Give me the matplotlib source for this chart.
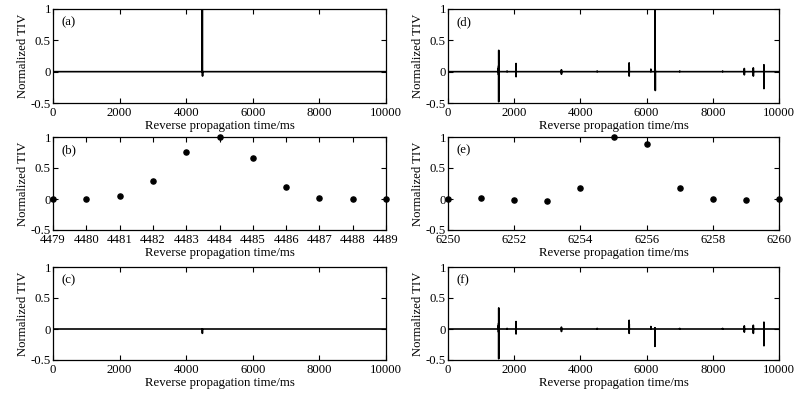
import matplotlib
matplotlib.use("Agg")
import matplotlib.pyplot as plt

plt.rcParams['font.family'] = ['Liberation Serif', 'DejaVu Serif']
plt.rcParams['mathtext.fontset'] = 'stix'

# ---- data ----
# (b) detail around the first event
b_time = [4479, 4480, 4481, 4482, 4483, 4484, 4485, 4486, 4487, 4488, 4489]
b_tiv = [0.0, 0.0, 0.05, 0.29, 0.76, 1.0, 0.66, 0.2, 0.02, 0.0, 0.0]

# (a) full trace: event samples (baseline zero elsewhere)
a_time = [0, 4479, 4480, 4481, 4482, 4483, 4484, 4485, 4486, 4487, 4488, 4489, 4490, 4491, 4492, 10000]
a_tiv = [0.0, 0.0, 0.0, 0.05, 0.29, 0.76, 1.0, 0.66, 0.2, 0.02, 0.0, 0.0, -0.04, -0.07, 0.0, 0.0]

# (c) residual trace
c_time = [0, 4484, 4485, 4486, 4487, 4488, 10000]
c_tiv = [0.0, 0.0, -0.03, -0.07, -0.02, 0.0, 0.0]

# (e) detail around the strongest event of (d)
e_time = [6250, 6251, 6252, 6253, 6254, 6255, 6256, 6257, 6258, 6259, 6260]
e_tiv = [0.0, 0.01, -0.01, -0.03, 0.18, 1.0, 0.89, 0.17, 0.005, -0.01, 0.0]

# (d) full trace: sample times / values of the events
d_time = [0,
          1528, 1529, 1530, 1531, 1532, 1533, 1534, 1535, 1536,
          1784, 1785, 1786,
          2054, 2055, 2056, 2057, 2058,
          3426, 3427, 3428, 3429,
          4506, 4507, 4508,
          5472, 5473, 5474, 5475, 5476,
          6128, 6129, 6130,
          6250, 6251, 6252, 6253, 6254, 6255, 6256, 6257, 6258, 6259, 6260, 6261, 6262, 6263, 6264,
          7000, 7001, 7002,
          8296, 8297, 8298,
          8951, 8952, 8953, 8954,
          9223, 9224, 9225, 9226,
          9544, 9545, 9546, 9547, 9548,
          10000]
d_tiv = [0.0,
         0.0, 0.06, -0.05, 0.095, -0.48, 0.34, -0.055, 0.08, 0.0,
         0.0, 0.01, 0.0,
         0.0, 0.13, -0.08, 0.06, 0.0,
         0.0, 0.03, -0.04, 0.0,
         0.0, 0.01, 0.0,
         0.0, 0.14, -0.07, 0.08, 0.0,
         0.0, 0.04, 0.0,
         0.0, 0.01, -0.01, -0.03, 0.18, 1.0, 0.89, 0.17, 0.005, -0.01, 0.0, 0.03, -0.12, -0.3, 0.0,
         0.0, 0.01, 0.0,
         0.0, 0.01, 0.0,
         0.0, 0.05, -0.05, 0.0,
         0.0, 0.06, -0.07, 0.0,
         0.0, 0.11, -0.27, 0.05, 0.0,
         0.0]

# (f) residual trace
f_time = [0,
          1528, 1529, 1530, 1531, 1532, 1533, 1534, 1535, 1536,
          1784, 1785, 1786,
          2054, 2055, 2056, 2057, 2058,
          3426, 3427, 3428, 3429,
          4506, 4507, 4508,
          5472, 5473, 5474, 5475, 5476,
          6128, 6129, 6130,
          6250, 6251, 6252, 6253, 6254,
          7000, 7001, 7002,
          8296, 8297, 8298,
          8951, 8952, 8953, 8954,
          9223, 9224, 9225, 9226,
          9544, 9545, 9546, 9547, 9548,
          10000]
f_tiv = [0.0,
         0.0, 0.06, -0.05, 0.095, -0.48, 0.34, -0.055, 0.08, 0.0,
         0.0, 0.01, 0.0,
         0.0, 0.12, -0.08, 0.06, 0.0,
         0.0, 0.03, -0.04, 0.0,
         0.0, 0.01, 0.0,
         0.0, 0.14, -0.07, 0.08, 0.0,
         0.0, 0.04, 0.0,
         0.0, 0.02, -0.28, 0.01, 0.0,
         0.0, 0.01, 0.0,
         0.0, 0.01, 0.0,
         0.0, 0.05, -0.05, 0.0,
         0.0, 0.06, -0.07, 0.0,
         0.0, 0.11, -0.27, 0.05, 0.0,
         0.0]

y_ticks = [-0.5, 0, 0.5, 1]
y_ticklabels = ['-0.5', '0', '0.5', '1']
xlabel = 'Reverse propagation time/ms'
ylabel = 'Normalized TIV'

W, H = 809, 395
fig = plt.figure(figsize=(W / 100, H / 100), dpi=100)

cols = [(53, 333), (448, 331)]
rows = [(9, 103), (137, 230), (267, 360)]

def make_ax(col, row):
    l, w = cols[col]
    t, b = rows[row]
    return fig.add_axes([l / W, (H - b) / H, w / W, (b - t) / H])

FS = 9.2

panels = [
    (0, 0, 'a', a_time, a_tiv, 'line', (0, 10000), [0, 2000, 4000, 6000, 8000, 10000]),
    (0, 1, 'b', b_time, b_tiv, 'dot', (4479, 4489), list(range(4479, 4490))),
    (0, 2, 'c', c_time, c_tiv, 'line', (0, 10000), [0, 2000, 4000, 6000, 8000, 10000]),
    (1, 0, 'd', d_time, d_tiv, 'line', (0, 10000), [0, 2000, 4000, 6000, 8000, 10000]),
    (1, 1, 'e', e_time, e_tiv, 'dot', (6250, 6260), [6250, 6252, 6254, 6256, 6258, 6260]),
    (1, 2, 'f', f_time, f_tiv, 'line', (0, 10000), [0, 2000, 4000, 6000, 8000, 10000]),
]

for col, row, lab, xs, ys, kind, xlim, xticks in panels:
    ax = make_ax(col, row)
    if kind == 'line':
        ax.plot(xs, ys, color='black', lw=1.2)
    else:
        ax.plot(xs, ys, 'o', color='black', ms=3.7, clip_on=False)
    ax.set_xlim(*xlim)
    ax.set_ylim(-0.5, 1)
    ax.set_xticks(xticks)
    ax.set_xticklabels([str(v) for v in xticks])
    ax.set_yticks(y_ticks)
    ax.set_yticklabels(y_ticklabels)
    ax.tick_params(direction='in', length=3.5, width=0.8, top=True, right=True,
                   labelsize=FS)
    ax.tick_params(axis='x', pad=3.0)
    ax.tick_params(axis='y', pad=1.5)
    ax.set_xlabel(xlabel, fontsize=FS, labelpad=0.5)
    ax.set_ylabel(ylabel, fontsize=FS, labelpad=1)
    for s in ax.spines.values():
        s.set_linewidth(0.9)
    ax.text(0.025, 0.92, '(%s)' % lab, transform=ax.transAxes, fontsize=FS,
            va='top', ha='left')

fig.savefig('out.png', dpi=100)
